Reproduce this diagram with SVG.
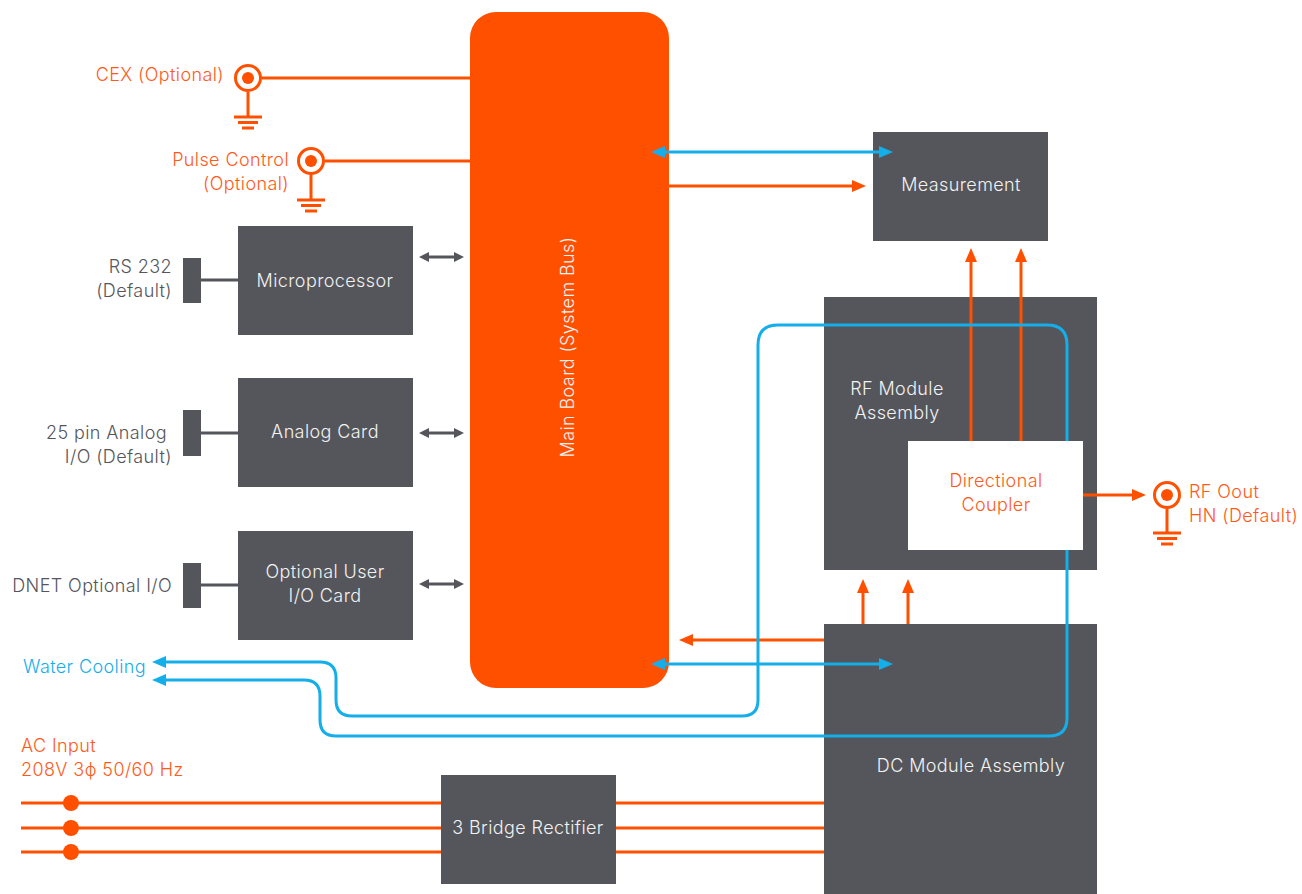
<svg xmlns="http://www.w3.org/2000/svg" width="1302" height="894" viewBox="0 0 1302 894">
<style>
text{font-family:Inter,"Liberation Sans",sans-serif;font-size:18px;font-weight:300;letter-spacing:0.4px}
.wt{fill:#F2F2F2;text-anchor:middle}
.ot{fill:#FF5A1A}
.gt{fill:#55565B;text-anchor:end}
.bt{fill:#14AEEA}
.box{fill:#55565B}
.ol{stroke:#FF5000;stroke-width:3;fill:none}
.bl{stroke:#14AEEA;stroke-width:3;fill:none}
.gl{stroke:#55565B;stroke-width:3;fill:none}
</style>
<defs>
<marker id="ao" markerUnits="userSpaceOnUse" viewBox="0 0 14 12" markerWidth="14" markerHeight="12" refX="1" refY="6" orient="auto-start-reverse"><path d="M0,0 L14,6 L0,12 z" fill="#FF5000"/></marker>
<marker id="ab" markerUnits="userSpaceOnUse" viewBox="0 0 14 12" markerWidth="14" markerHeight="12" refX="1" refY="6" orient="auto-start-reverse"><path d="M0,0 L14,6 L0,12 z" fill="#14AEEA"/></marker>
<marker id="ag" markerUnits="userSpaceOnUse" viewBox="0 0 10 10" markerWidth="10" markerHeight="10" refX="1" refY="5" orient="auto-start-reverse"><path d="M0,0 L10,5 L0,10 z" fill="#55565B"/></marker>
</defs>
<rect width="1302" height="894" fill="#FFFFFF"/>

<g id="main-board">
<rect x="470" y="12" width="199" height="676" rx="26" fill="#FF5000"/>
<text class="wt" transform="translate(574,347) rotate(-90)">Main Board (System Bus)</text>
</g>
<g id="measurement"><rect class="box" x="873" y="132" width="175" height="109"/><text class="wt" x="961" y="191">Measurement</text></g>
<g id="rf-module"><rect class="box" x="824" y="297" width="273" height="273"/><text class="wt" x="897" y="395">RF Module</text><text class="wt" x="897" y="419">Assembly</text></g>
<g id="dc-module"><rect class="box" x="824" y="624" width="273" height="270"/><text class="wt" x="971" y="772">DC Module Assembly</text></g>
<g id="rectifier"><rect class="box" x="441" y="775" width="175" height="109"/><text class="wt" x="528" y="834">3 Bridge Rectifier</text></g>
<g id="microprocessor"><rect class="box" x="238" y="226" width="175" height="109"/><text class="wt" x="325" y="287">Microprocessor</text></g>
<g id="analog-card"><rect class="box" x="238" y="378" width="175" height="109"/><text class="wt" x="325" y="438">Analog Card</text></g>
<g id="user-io-card"><rect class="box" x="238" y="531" width="175" height="109"/><text class="wt" x="325" y="578">Optional User</text><text class="wt" x="325" y="602">I/O Card</text></g>

<g id="rs232"><rect class="box" x="183" y="258" width="18" height="45"/><text class="gt" x="172" y="273">RS 232</text><text class="gt" x="172" y="297">(Default)</text></g>
<g id="analog-io"><rect class="box" x="183" y="410" width="18" height="46"/><text class="gt" x="167" y="439">25 pin Analog</text><text class="gt" x="172" y="463">I/O (Default)</text></g>
<g id="dnet-io"><rect class="box" x="183" y="563" width="18" height="45"/><text class="gt" x="172" y="592">DNET Optional I/O</text></g>

<g id="cex">
<circle cx="248" cy="78" r="12.5" fill="#FFFFFF" stroke="#FF5000" stroke-width="3"/><circle cx="248" cy="78" r="6" fill="#FF5000"/>
<path class="ol" d="M248,92 V117 M234,117 H262 M238,122.5 H258 M242,128 H254"/>
<text class="ot" x="224" y="81" text-anchor="end">CEX (Optional)</text>
</g>
<g id="pulse-control">
<circle cx="311" cy="161" r="12.5" fill="#FFFFFF" stroke="#FF5000" stroke-width="3"/><circle cx="311" cy="161" r="6" fill="#FF5000"/>
<path class="ol" d="M311,175 V200 M297,200 H325 M301,205.5 H321 M305,211 H317"/>
<text class="ot" x="289" y="166" text-anchor="end">Pulse Control</text>
<text class="ot" x="289" y="190" text-anchor="end">(Optional)</text>
</g>
<g id="rf-out">
<circle cx="1167" cy="495" r="12.5" fill="#FFFFFF" stroke="#FF5000" stroke-width="3"/><circle cx="1167" cy="495" r="6" fill="#FF5000"/>
<path class="ol" d="M1167,509 V533 M1153,533 H1181 M1157,538.5 H1177 M1161,544 H1173"/>
<text class="ot" x="1189" y="498">RF Oout</text>
<text class="ot" x="1189" y="522">HN (Default)</text>
</g>
<g id="water-cooling"><text class="bt" x="23" y="673">Water Cooling</text></g>
<g id="ac-input">
<text class="ot" x="21" y="752">AC Input</text>
<text class="ot" x="21" y="776">208V 3ϕ 50/60 Hz</text>
<circle cx="71" cy="803" r="8" fill="#FF5000"/><circle cx="71" cy="828" r="8" fill="#FF5000"/><circle cx="71" cy="852" r="8" fill="#FF5000"/>
</g>

<g id="connectors">
<path class="ol" d="M262,78 H470 M325,161 H470"/>
<path class="gl" d="M201,280 H238 M201,433 H238 M201,585 H238"/>
<path class="gl" d="M428,257 H455" marker-start="url(#ag)" marker-end="url(#ag)"/>
<path class="gl" d="M428,433 H455" marker-start="url(#ag)" marker-end="url(#ag)"/>
<path class="gl" d="M428,584 H455" marker-start="url(#ag)" marker-end="url(#ag)"/>
<path class="bl" d="M664,152 H880" marker-start="url(#ab)" marker-end="url(#ab)"/>
<path class="ol" d="M669,186 H853" marker-end="url(#ao)"/>
<path class="ol" d="M971,441 V261" marker-end="url(#ao)"/>
<path class="ol" d="M1021,441 V261" marker-end="url(#ao)"/>
<path class="ol" d="M1083,495 H1133" marker-end="url(#ao)"/>
<path class="ol" d="M863,624 V592" marker-end="url(#ao)"/>
<path class="ol" d="M908,624 V592" marker-end="url(#ao)"/>
<path class="ol" d="M824,640 H692" marker-end="url(#ao)"/>
<path class="bl" d="M664,664 H880" marker-start="url(#ab)" marker-end="url(#ab)"/>
<path class="bl" d="M165,662 H320 Q336,662 336,678 V700 Q336,716 352,716 H742 Q758,716 758,700 V345 Q758,325 778,325 H1047 Q1067,325 1067,345 V718 Q1067,736 1049,736 H336 Q320,736 320,720 V696 Q320,680 304,680 H165" marker-start="url(#ab)" marker-end="url(#ab)"/>
<path class="ol" d="M21,803 H441 M616,803 H824 M21,828 H441 M616,828 H824 M21,852 H441 M616,852 H824"/>
</g>

<g id="directional-coupler">
<rect x="908" y="441" width="175" height="109" fill="#FFFFFF"/>
<text class="ot" x="996" y="487" text-anchor="middle">Directional</text>
<text class="ot" x="996" y="511" text-anchor="middle">Coupler</text>
</g>
</svg>
